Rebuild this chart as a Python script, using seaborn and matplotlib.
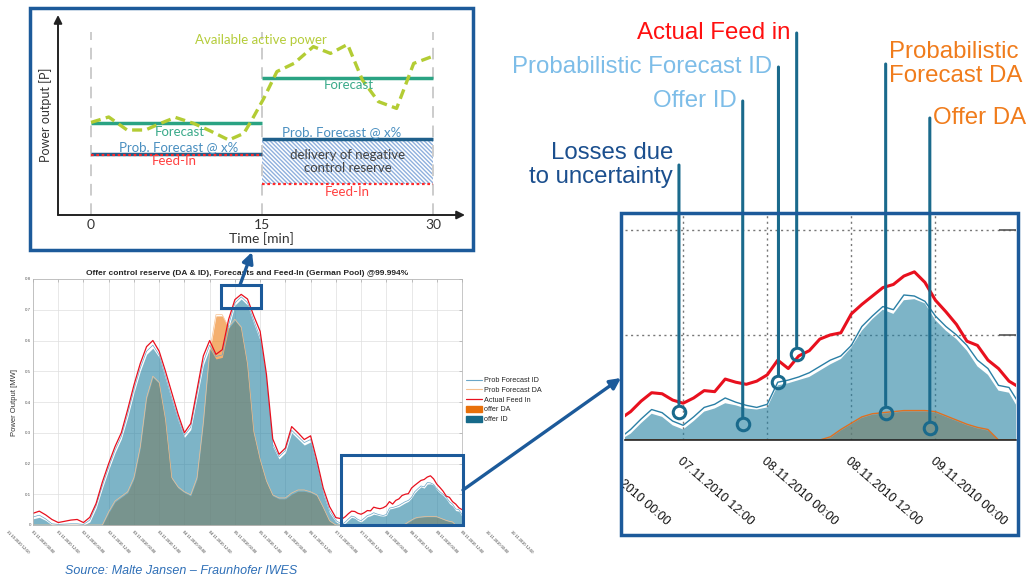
import numpy as np
import pandas as pd
import matplotlib
matplotlib.use("Agg")
import matplotlib.pyplot as plt
import matplotlib.transforms as mtransforms
from matplotlib.patches import Rectangle, FancyArrowPatch, Patch
from matplotlib.lines import Line2D
import seaborn as sns

# ---------------- data ----------------
# hours since 01.11.2010 00:00
hours = [0, 3, 6, 9, 12, 15, 18, 21, 24, 27, 30, 33, 36, 39, 42, 45, 48, 51, 54, 57,
         60, 63, 66, 69, 72, 75, 78, 81, 84, 87, 90, 93, 96, 99, 102, 105, 108, 111,
         114, 117, 120, 123, 126, 129, 132, 135, 138, 141, 144,
         147, 148.5, 150, 151.5, 153, 154.5, 156, 157.5, 159, 160.5, 162, 163.5, 165,
         166.5, 168, 169.5, 171, 172.5, 174, 175.5, 177, 178.5, 180, 181.5, 183, 184.5,
         186, 187.5, 189, 190.5, 192, 193.5, 195, 196.5, 198, 199.5, 201, 202.5, 204]

feed_in = [0.038, 0.045, 0.033, 0.018, 0.008, 0.012, 0.016, 0.018, 0.008, 0.025, 0.070,
           0.140, 0.200, 0.255, 0.300, 0.375, 0.455, 0.525, 0.580, 0.600, 0.565, 0.500,
           0.430, 0.360, 0.300, 0.330, 0.440, 0.550, 0.600, 0.555, 0.570, 0.668, 0.733,
           0.750, 0.735, 0.680, 0.630, 0.490, 0.280, 0.230, 0.250, 0.320, 0.300, 0.278,
           0.290, 0.210, 0.120, 0.060, 0.024,
           0.020, 0.027, 0.037, 0.045, 0.044, 0.038, 0.035, 0.040, 0.047, 0.046, 0.058,
           0.055, 0.053, 0.056, 0.062, 0.076, 0.068, 0.080, 0.085, 0.096, 0.100, 0.102,
           0.120, 0.129, 0.137, 0.145, 0.148, 0.156, 0.160, 0.150, 0.133, 0.122, 0.110,
           0.094, 0.090, 0.076, 0.068, 0.056, 0.050]

forecast_id = [0.026, 0.032, 0.020, 0.004, 0.002, 0.003, 0.004, 0.004, 0.002, 0.016, 0.062,
               0.128, 0.188, 0.243, 0.288, 0.360, 0.440, 0.510, 0.565, 0.585, 0.553, 0.485,
               0.413, 0.348, 0.292, 0.318, 0.425, 0.530, 0.585, 0.548, 0.553, 0.650, 0.722,
               0.742, 0.723, 0.665, 0.610, 0.475, 0.262, 0.222, 0.242, 0.308, 0.288, 0.268,
               0.278, 0.198, 0.108, 0.048, 0.015,
               0.002, 0.010, 0.020, 0.029, 0.026, 0.018, 0.014, 0.022, 0.031, 0.034, 0.040,
               0.036, 0.033, 0.031, 0.034, 0.055, 0.057, 0.060, 0.064, 0.070, 0.076, 0.080,
               0.090, 0.108, 0.118, 0.127, 0.124, 0.138, 0.137, 0.132, 0.118, 0.108, 0.100,
               0.090, 0.076, 0.068, 0.052, 0.050, 0.034]

offer_id = [0.020, 0.025, 0.015, 0.000, 0.000, 0.000, 0.000, 0.000, 0.000, 0.010, 0.055,
            0.120, 0.180, 0.235, 0.280, 0.350, 0.430, 0.500, 0.555, 0.575, 0.545, 0.475,
            0.405, 0.340, 0.285, 0.310, 0.415, 0.520, 0.575, 0.540, 0.545, 0.640, 0.715,
            0.735, 0.715, 0.655, 0.600, 0.465, 0.255, 0.215, 0.235, 0.300, 0.280, 0.260,
            0.270, 0.190, 0.100, 0.040, 0.010,
            0.000, 0.006, 0.016, 0.025, 0.022, 0.014, 0.010, 0.018, 0.027, 0.030, 0.035,
            0.033, 0.030, 0.029, 0.031, 0.052, 0.054, 0.057, 0.060, 0.066, 0.072, 0.077,
            0.088, 0.104, 0.115, 0.124, 0.120, 0.133, 0.134, 0.130, 0.114, 0.104, 0.096,
            0.085, 0.070, 0.062, 0.047, 0.045, 0.028]

offer_da = [0, 0, 0, 0, 0, 0, 0, 0, 0, 0, 0, 0,
            0.040, 0.075, 0.090, 0.105, 0.150, 0.250, 0.410, 0.480, 0.460, 0.340, 0.150,
            0.120, 0.105, 0.095, 0.150, 0.330, 0.560, 0.680, 0.680, 0.640, 0.665, 0.640,
            0.520, 0.300, 0.210, 0.140, 0.095, 0.085, 0.085, 0.100, 0.110, 0.110, 0.105,
            0.095, 0.055, 0.012, 0.0,
            0, 0, 0, 0, 0, 0, 0, 0, 0, 0, 0, 0, 0, 0, 0, 0, 0, 0, 0, 0,
            0.002, 0.009, 0.015, 0.021, 0.024, 0.025, 0.026, 0.027, 0.027, 0.027, 0.026,
            0.022, 0.018, 0.014, 0.011, 0.009, 0.0, 0.0, 0.0]

forecast_da = [0, 0, 0, 0, 0, 0, 0, 0, 0, 0, 0, 0,
               0.043, 0.078, 0.093, 0.108, 0.154, 0.254, 0.414, 0.484, 0.464, 0.344, 0.154,
               0.124, 0.108, 0.098, 0.154, 0.334, 0.564, 0.684, 0.684, 0.644, 0.669, 0.644,
               0.524, 0.304, 0.214, 0.144, 0.098, 0.088, 0.088, 0.104, 0.114, 0.114, 0.108,
               0.098, 0.058, 0.014, 0.0,
               0, 0, 0, 0, 0, 0, 0, 0, 0, 0, 0, 0, 0, 0, 0, 0, 0, 0, 0, 0,
               0.003, 0.010, 0.016, 0.022, 0.025, 0.026, 0.027, 0.028, 0.028, 0.028, 0.027,
               0.023, 0.019, 0.015, 0.012, 0.010, 0.0, 0.0, 0.0]

main_ticks = [0, 12, 24, 36, 48, 60, 72, 84, 96, 108, 120, 132, 144, 156, 168, 180, 192, 204]
main_yticks = [0, 0.1, 0.2, 0.3, 0.4, 0.5, 0.6, 0.7, 0.8]
main_label_hours = list(range(-12, 229, 12))
start = pd.Timestamp("2010-11-01 00:00")
main_labels = [(start + pd.Timedelta(hours=h)).strftime("%d.%m.%Y %H:%M") for h in main_label_hours]

zoom_ticks = [156, 168, 180, 192]
zoom_label_hours = [144, 156, 168, 180, 192]
zoom_labels = ["07.11.2010 00:00", "07.11.2010 12:00", "08.11.2010 00:00",
               "08.11.2010 12:00", "09.11.2010 00:00"]
zoom_yticks = [0.1, 0.2]

# schematic (minutes / relative power)
sketch_t = [0, 1.55, 3.16, 4.77, 6.08, 7.4, 9.0, 10.47, 12.08, 13.4, 14.1, 15.15, 16.3,
            17.8, 19.5, 21.0, 22.5, 23.8, 25.2, 26.8, 28.3, 29.9]
sketch_avail = [0.463, 0.49, 0.425, 0.425, 0.458, 0.488, 0.458, 0.42, 0.375, 0.408, 0.475,
                0.583, 0.717, 0.758, 0.842, 0.808, 0.853, 0.675, 0.567, 0.533, 0.758, 0.792]
sketch_start = [0, 15]
sketch_end = [15, 30]
sketch_forecast = [0.458, 0.687]
sketch_prob = [0.305, 0.378]
sketch_feedin = [0.300, 0.153]

df = pd.DataFrame({"hours": hours, "feed_in": feed_in, "forecast_id": forecast_id,
                   "offer_id": offer_id, "forecast_da": forecast_da, "offer_da": offer_da})

# ---------------- style ----------------
sns.set_style("white")
plt.rcParams["font.family"] = ["Liberation Sans", "DejaVu Sans"]
plt.rcParams["hatch.linewidth"] = 1.0

W, H = 1030, 578
BOX = "#1c5a9a"
CALL = "#1a6a8c"
RED = "#e8101e"
ORANGE = "#ee7a10"
BLUE = "#2682a3"


def fig_box(x0, y0, x1, y1):
    return [x0 / W, 1 - y1 / H, (x1 - x0) / W, (y1 - y0) / H]


def fpt(x, y):
    return (x / W, 1 - y / H)


def draw_series(ax, lw_red, lw_thin, id_line, da_line):
    ax.fill_between(df["hours"], df["offer_da"], color=ORANGE, alpha=0.6, lw=0)
    ax.fill_between(df["hours"], df["offer_id"], color=BLUE, alpha=0.6, lw=0)
    sns.lineplot(data=df, x="hours", y="forecast_da", ax=ax, color=da_line, lw=lw_thin,
                 estimator=None, legend=False)
    sns.lineplot(data=df, x="hours", y="forecast_id", ax=ax, color=id_line, lw=lw_thin,
                 estimator=None, legend=False)
    sns.lineplot(data=df, x="hours", y="feed_in", ax=ax, color=RED, lw=lw_red,
                 estimator=None, legend=False)


fig = plt.figure(figsize=(W / 100, H / 100), dpi=100)

# ---------------- main chart ----------------
ax = fig.add_axes(fig_box(33, 279, 462, 525))
draw_series(ax, 0.9, 0.5, "#6aa6c8", "#f6c090")
ax.set_xlim(0, 204)
ax.set_ylim(0, 0.8)
ax.set_xticks(main_ticks)
ax.set_xticklabels([])
ax.set_yticks(main_yticks)
ax.set_yticklabels([f"{v:g}" for v in main_yticks])
ax.tick_params(direction="in", length=2, width=0.4, colors="#999", labelcolor="#555",
               labelsize=3.2, pad=1.5, top=True, right=True)
ax.grid(True, color="#dedede", lw=0.5)
for s in ax.spines.values():
    s.set_color("#b0b0b0")
    s.set_linewidth(0.5)
ax.set_xlabel("")
ax.set_ylabel("Power Output [MW]", fontsize=5.5, color="#333", labelpad=5)
ax.set_title("Offer control reserve (DA & ID), Forecasts and Feed-In (German Pool) @99.994%",
             fontsize=6.0, fontweight="bold", pad=3)
blend_main = mtransforms.blended_transform_factory(ax.transData, ax.transAxes)
for h, lab in zip(main_label_hours, main_labels):
    ax.text(h, -0.02, lab, transform=blend_main, rotation=-45, rotation_mode="anchor",
            ha="left", va="top", fontsize=2.8, color="#333", clip_on=False)

handles = [Line2D([], [], color="#6aa6c8", lw=0.8), Line2D([], [], color="#f6c090", lw=0.8),
           Line2D([], [], color=RED, lw=0.9), Patch(color="#e8700a"), Patch(color="#166a8a")]
ax.legend(handles, ["Prob Forecast ID", "Prob Forecast DA", "Actual Feed In", "offer DA", "offer ID"],
          loc="upper left", bbox_to_anchor=fpt(466, 377), bbox_transform=fig.transFigure,
          frameon=False, fontsize=5.2, handlelength=2.2, handleheight=0.9, labelspacing=0.3,
          borderaxespad=0, borderpad=0, handletextpad=0.3)

ax.add_patch(Rectangle((146.3, 0.0), 58.0, 0.228, fill=False, ec=BOX, lw=2.2, clip_on=False, zorder=5))
ax.add_patch(Rectangle((89.6, 0.706), 18.6, 0.074, fill=False, ec=BOX, lw=2.2, clip_on=False, zorder=5))

fig.text(65 / W, 1 - 571 / H, "Source: Malte Jansen \u2013 Fraunhofer IWES", style="italic",
         color="#2e6fb7", fontsize=9, va="center", ha="left")

# ---------------- schematic ----------------
ax_s = fig.add_axes(fig_box(58, 15, 465, 215))
ax_s.set_xlim(-2.9, 32.8)
ax_s.set_ylim(0, 1)
for s in ax_s.spines.values():
    s.set_visible(False)
ax_s.set_xticks([0, 15, 30])
ax_s.set_xticklabels(["0", "15", "30"])
ax_s.set_yticks([])
ax_s.tick_params(axis="x", length=0, labelsize=10, colors="#333", pad=3)
ax_s.set_xlabel("Time [min]", fontsize=10, color="#333", labelpad=1, family="Lato")
ax_s.set_ylabel("Power output [P]", fontsize=9, color="#333", labelpad=4, family="Lato")
for lab in ax_s.get_xticklabels():
    lab.set_family("Lato")
ax_s.annotate("", xy=(1, 0), xytext=(0, 0), xycoords="axes fraction",
              arrowprops=dict(arrowstyle="-|>", color="#222", lw=1.4, mutation_scale=12,
                              shrinkA=0, shrinkB=0))
ax_s.annotate("", xy=(0, 1), xytext=(0, 0), xycoords="axes fraction",
              arrowprops=dict(arrowstyle="-|>", color="#222", lw=1.4, mutation_scale=12,
                              shrinkA=0, shrinkB=0))
ax_s.vlines([0, 15, 30], 0, 0.915, color="#cccccc", lw=1.4, ls=(0, (6, 4)))
ax_s.fill_between([sketch_start[1], sketch_end[1]], sketch_feedin[1], sketch_prob[1],
                  facecolor="none", edgecolor="#8fb0dd", hatch="\\" * 8, lw=0)
ax_s.hlines(sketch_forecast, sketch_start, sketch_end, color="#2aa383", lw=2.5)
ax_s.hlines(sketch_prob, sketch_start, sketch_end, color="#1f5f8b", lw=2.5)
ax_s.hlines(sketch_feedin, sketch_start, sketch_end, color="#ff2a2a", lw=1.6, ls=(0, (1.2, 1.2)))
ax_s.plot(sketch_t, sketch_avail, color="#b3cc34", lw=2.4, ls=(0, (3, 1.6)))

sk = dict(fontsize=9.5, ha="center", va="center", family="Lato")
ax_s.text(14.9, 0.875, "Available active power", color="#b5cc3a", **sk)
ax_s.text(22.6, 0.65, "Forecast", color="#3aaa8a", **sk)
ax_s.text(7.8, 0.417, "Forecast", color="#3aaa8a", **sk)
ax_s.text(7.7, 0.342, "Prob. Forecast @ x%", color="#4a8fc0", **sk)
ax_s.text(7.3, 0.27, "Feed-In", color="#ff4040", **sk)
ax_s.text(22.0, 0.417, "Prob. Forecast @ x%", color="#4a8fc0", **sk)
ax_s.text(22.5, 0.267, "delivery of negative\ncontrol reserve", color="#444", linespacing=1.1, **sk)
ax_s.text(22.5, 0.113, "Feed-In", color="#ff4040", **sk)

# ---------------- zoom chart ----------------
ax_z = fig.add_axes(fig_box(625, 213, 1016, 440))
draw_series(ax_z, 2.2, 1.0, "#2a7fa5", "#e07020")
ax_z.set_xlim(147.7, 203.5)
ax_z.set_ylim(0, 0.216)
ax_z.set_xlabel("")
ax_z.set_ylabel("")
for side in ["top", "left", "right"]:
    ax_z.spines[side].set_visible(False)
ax_z.spines["bottom"].set_color("#222")
ax_z.spines["bottom"].set_linewidth(1.2)
ax_z.set_xticks(zoom_ticks)
ax_z.set_xticklabels([])
ax_z.yaxis.tick_right()
ax_z.set_yticks(zoom_yticks)
ax_z.set_yticklabels([])
ax_z.tick_params(axis="x", direction="in", length=9, width=1.2, colors="#333")
ax_z.tick_params(axis="y", direction="in", length=12, width=1.2, colors="#555")
ax_z.grid(True, color="#777", lw=1.0, ls=(0, (1.5, 2.5)))

zoom_box = Rectangle((621 / W, 1 - 535 / H), 397 / W, 322 / H, transform=fig.transFigure,
                     fill=False, ec=BOX, lw=2.5)
fig.add_artist(zoom_box)
top_box = Rectangle((30 / W, 1 - 250 / H), 443 / W, 242 / H, transform=fig.transFigure,
                    fill=False, ec=BOX, lw=2.5)
fig.add_artist(top_box)

clip_bb = mtransforms.TransformedBbox(
    mtransforms.Bbox.from_extents(623 / W, 1 - 533 / H, 1016 / W, 1 - 215 / H), fig.transFigure)
blend_z = mtransforms.blended_transform_factory(ax_z.transData, ax_z.transAxes)
for h, lab in zip(zoom_label_hours, zoom_labels):
    t = ax_z.text(h, -0.066, lab, transform=blend_z, rotation=-41, rotation_mode="anchor",
                  ha="left", va="top", fontsize=9, color="#111")
    t.set_clip_box(clip_bb)
    t.set_clip_on(True)

# callouts: label, colour, anchor hour, anchor value, top of line (px), side
callouts = [
    ("Losses due\nto uncertainty", "#1b4f8e", 155.4, 0.027, 165, "right"),
    ("Offer ID", "#7dbde8", 164.5, 0.015, 101, "right"),
    ("Probabilistic Forecast ID", "#7dbde8", 169.6, 0.055, 67, "right"),
    ("Actual Feed in", "#ff1010", 172.2, 0.082, 33, "right"),
    ("Probabilistic\nForecast DA", "#f07c1c", 184.9, 0.026, 64, "left"),
    ("Offer DA", "#f07c1c", 191.2, 0.011, 118, "left"),
]
blend_fig = mtransforms.blended_transform_factory(ax_z.transData, fig.transFigure)
for label, col, h, v, top, side in callouts:
    ax_z.annotate("", xy=(h, v), xycoords="data", xytext=(h, 1 - top / H), textcoords=blend_fig,
                  arrowprops=dict(arrowstyle="-", color=CALL, lw=2.2, shrinkA=0, shrinkB=5.5),
                  annotation_clip=False)
    ax_z.plot(h, v, "o", ms=9, mfc="none", mec=CALL, mew=2.2, clip_on=False, zorder=6)
    dx = -6 if side == "right" else 3
    ax_z.annotate(label, xy=(h, 1 - top / H), xycoords=blend_fig, xytext=(dx, 0),
                  textcoords="offset pixels", ha=side, va="center", multialignment=side,
                  fontsize=17.3, color=col, linespacing=1.15, annotation_clip=False)

# ---------------- connecting arrows ----------------
for a, b in [((240, 285), (252, 252)), ((463, 490), (621, 378))]:
    fig.add_artist(FancyArrowPatch(fpt(*a), fpt(*b), transform=fig.transFigure,
                                   arrowstyle="-|>", mutation_scale=16, color=BOX, lw=2.4,
                                   shrinkA=0, shrinkB=0))

fig.savefig("out.png", dpi=100)
plt.close(fig)
